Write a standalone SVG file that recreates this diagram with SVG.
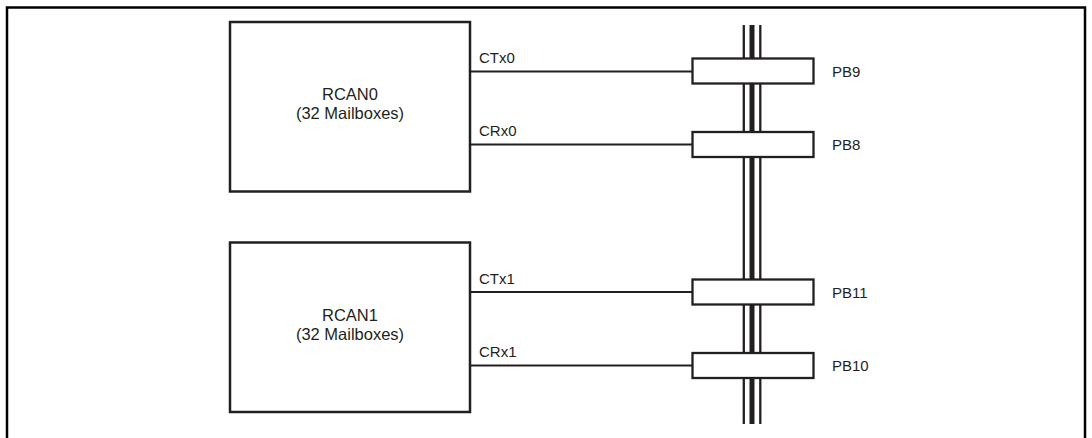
<svg xmlns="http://www.w3.org/2000/svg" width="1092" height="438" viewBox="0 0 1092 438">
<style>
.frame{fill:none;stroke:#000;stroke-width:2.5}
.box{fill:#fff;stroke:#231f20;stroke-width:2.5}
.pin{fill:#fff;stroke:#231f20;stroke-width:2.3}
.wire{stroke:#231f20;stroke-width:2;fill:none}
.t{font-family:"Liberation Sans",Arial,sans-serif;font-size:15px;fill:#231f20}
.b{font-size:16.5px;text-anchor:middle}
</style>
<rect width="1092" height="438" fill="#fff"/>
<path class="frame" d="M7,438 V7.5 H1085 V438"/>
<g id="bus">
<line x1="743.8" y1="25" x2="743.8" y2="424" stroke="#231f20" stroke-width="2.3"/>
<line x1="752" y1="25" x2="752" y2="424" stroke="#231f20" stroke-width="5"/>
<line x1="760.3" y1="25" x2="760.3" y2="424" stroke="#231f20" stroke-width="2.3"/>
</g>
<g id="connectors">
<line class="wire" x1="470" y1="71.5" x2="693" y2="71.5"/>
<line class="wire" x1="470" y1="144.5" x2="693" y2="144.5"/>
<line class="wire" x1="470" y1="292" x2="693" y2="292"/>
<line class="wire" x1="470" y1="365.5" x2="693" y2="365.5"/>
<text class="t" x="479" y="63">CTx0</text>
<text class="t" x="479" y="136">CRx0</text>
<text class="t" x="479" y="284">CTx1</text>
<text class="t" x="479" y="357">CRx1</text>
</g>
<g id="rcan0">
<rect class="box" x="230" y="22" width="240" height="169.5"/>
<text class="t b" x="350" y="100">RCAN0</text>
<text class="t b" x="350" y="119">(32 Mailboxes)</text>
</g>
<g id="rcan1">
<rect class="box" x="230" y="242.5" width="240" height="169.5"/>
<text class="t b" x="350" y="320.5">RCAN1</text>
<text class="t b" x="350" y="339.5">(32 Mailboxes)</text>
</g>
<g id="pb9">
<rect class="pin" x="692.5" y="58.5" width="121" height="25"/>
<text class="t" x="832" y="77">PB9</text>
</g>
<g id="pb8">
<rect class="pin" x="692.5" y="132" width="121" height="25"/>
<text class="t" x="832" y="150">PB8</text>
</g>
<g id="pb11">
<rect class="pin" x="692.5" y="279.5" width="121" height="25"/>
<text class="t" x="832" y="298">PB11</text>
</g>
<g id="pb10">
<rect class="pin" x="692.5" y="353" width="121" height="25"/>
<text class="t" x="832" y="371">PB10</text>
</g>
</svg>
